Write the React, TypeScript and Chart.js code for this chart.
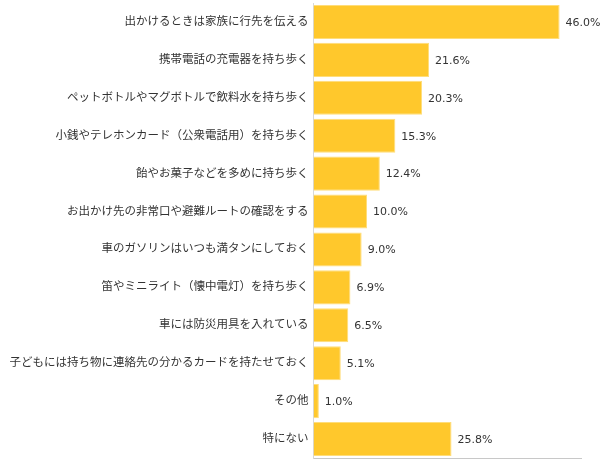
import React, { useEffect, useRef } from "react";
import { Chart, registerables } from "chart.js";

Chart.register(...registerables);

const categories: string[] = [
  "出かけるときは家族に行先を伝える",
  "携帯電話の充電器を持ち歩く",
  "ペットボトルやマグボトルで飲料水を持ち歩く",
  "小銭やテレホンカード（公衆電話用）を持ち歩く",
  "飴やお菓子などを多めに持ち歩く",
  "お出かけ先の非常口や避難ルートの確認をする",
  "車のガソリンはいつも満タンにしておく",
  "笛やミニライト（懐中電灯）を持ち歩く",
  "車には防災用具を入れている",
  "子どもには持ち物に連絡先の分かるカードを持たせておく",
  "その他",
  "特にない",
];

const values: number[] = [46.0, 21.6, 20.3, 15.3, 12.4, 10.0, 9.0, 6.9, 6.5, 5.1, 1.0, 25.8];

const FONT = "'DejaVu Sans', 'Noto Sans CJK JP', sans-serif";

const valueLabels = {
  id: "valueLabels",
  afterDatasetsDraw(chart: any) {
    const ctx = chart.ctx;
    const meta = chart.getDatasetMeta(0);
    ctx.save();
    ctx.font = `11px ${FONT}`;
    ctx.fillStyle = "#333333";
    ctx.textAlign = "left";
    ctx.textBaseline = "middle";
    meta.data.forEach((bar: any, i: number) => {
      const v = chart.data.datasets[0].data[i] as number;
      ctx.fillText(v.toFixed(1) + "%", bar.x + 6, bar.y + 1);
    });
    ctx.restore();
  },
};

export default function App() {
  const ref = useRef<HTMLCanvasElement | null>(null);
  useEffect(() => {
    if (!ref.current) return;
    const chart = new Chart(ref.current, {
      type: "bar",
      data: {
        labels: categories,
        datasets: [
          {
            data: values,
            backgroundColor: "#FFC82C",
            borderColor: "#FFDD7A",
            borderWidth: 1,
            barPercentage: 0.9,
            categoryPercentage: 1.0,
          },
        ],
      },
      options: {
        indexAxis: "y",
        animation: false,
        responsive: false,
        maintainAspectRatio: false,
        layout: { padding: { left: 0, right: 19, top: 3, bottom: 6 } },
        plugins: {
          legend: { display: false },
          tooltip: { enabled: false },
        },
        scales: {
          x: {
            min: 0,
            max: 50,
            grid: { display: false, drawTicks: false },
            border: { display: true, color: "#c8c8c8" },
            ticks: { display: false },
            afterFit: (s: any) => {
              s.height = 0;
              s.paddingLeft = 0;
              s.paddingRight = 0;
            },
          },
          y: {
            grid: { display: false, drawTicks: false },
            border: { display: true, color: "#d8d8d8" },
            ticks: {
              color: "#333333",
              font: { size: 11.5, family: FONT },
              padding: 5,
              autoSkip: false,
            },
            afterFit: (s: any) => {
              s.width = 313.5;
              s.paddingTop = 0;
              s.paddingBottom = 0;
            },
          },
        },
      },
      plugins: [valueLabels],
    });
    return () => chart.destroy();
  }, []);
  return (
    <div style={{ position: "absolute", left: 0, top: 0, width: 600, height: 464, background: "#fff" }}>
      <canvas ref={ref} width={600} height={464} style={{ width: 600, height: 464 }} />
    </div>
  );
}
